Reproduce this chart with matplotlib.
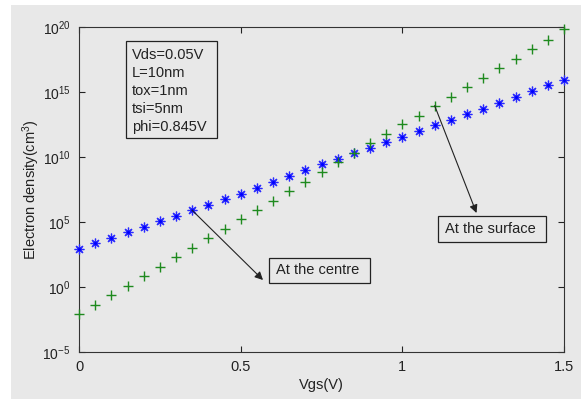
import numpy as np
import matplotlib
matplotlib.use("Agg")
import matplotlib.pyplot as plt
from matplotlib.patches import Rectangle

plt.rcParams['font.family'] = ['Liberation Sans', 'DejaVu Sans']
plt.rcParams['mathtext.default'] = 'regular'

vgs = [0.0, 0.05, 0.1, 0.15, 0.2, 0.25, 0.3, 0.35, 0.4, 0.45, 0.5, 0.55, 0.6,
       0.65, 0.7, 0.75, 0.8, 0.85, 0.9, 0.95, 1.0, 1.05, 1.1, 1.15, 1.2, 1.25,
       1.3, 1.35, 1.4, 1.45, 1.5]
log_centre = [2.92, 3.36, 3.77, 4.21, 4.64, 5.05, 5.48, 5.90, 6.33, 6.76, 7.19,
              7.62, 8.10, 8.56, 8.97, 9.44, 9.87, 10.28, 10.72, 11.13, 11.56,
              12.00, 12.44, 12.85, 13.28, 13.69, 14.13, 14.59, 15.08, 15.51, 15.92]
log_surface = [-2.08, -1.38, -0.64, 0.08, 0.82, 1.54, 2.28, 3.00, 3.74, 4.46, 5.23,
               5.92, 6.65, 7.41, 8.10, 8.82, 9.59, 10.28, 11.05, 11.74, 12.52,
               13.18, 13.95, 14.64, 15.38, 16.10, 16.85, 17.56, 18.31, 19.00, 19.82]
info_lines = ["Vds=0.05V", "L=10nm", "tox=1nm", "tsi=5nm", "phi=0.845V"]
x_ticks = [0, 0.5, 1, 1.5]
x_ticklabels = ['0', '0.5', '1', '1.5']
y_exps = [-5, 0, 5, 10, 15, 20]

centre = 10.0 ** np.array(log_centre)
surface = 10.0 ** np.array(log_surface)

W, H = 581, 399
AX_L, AX_R, AX_T, AX_B = 79, 564, 27, 352
FS = 10.5
fig = plt.figure(figsize=(W / 100, H / 100), dpi=100, facecolor='white')
bg = '#e8e8e8'
fig.patches.append(Rectangle((11 / W, 0), 1 - 11 / W, 1 - 5 / H,
                             transform=fig.transFigure, facecolor=bg,
                             edgecolor='none', zorder=-10))

ax = fig.add_axes([AX_L / W, 1 - AX_B / H, (AX_R - AX_L) / W, (AX_B - AX_T) / H])
ax.set_facecolor(bg)


def axc(px, py):
    return ((px - AX_L) / (AX_R - AX_L), (AX_B - py) / (AX_B - AX_T))


ax.plot(vgs, centre, linestyle='none', marker=(8, 2, 0), color='#2a2aff',
        markersize=7, markeredgewidth=0.9, clip_on=False, zorder=3)
ax.plot(vgs, centre, linestyle='none', marker='o', color='#0000ff',
        markersize=2.2, markeredgewidth=0, clip_on=False, zorder=3)
ax.plot(vgs, surface, linestyle='none', marker='+', color='#1e8a1e',
        markersize=7.5, markeredgewidth=1.0, clip_on=False, zorder=3)

ax.set_yscale('log')
ax.set_xlim(0, 1.5)
ax.set_ylim(1e-5, 1e20)
ax.set_xticks(x_ticks)
ax.set_xticklabels(x_ticklabels)
ax.set_yticks([10.0 ** e for e in y_exps])
ax.set_yticklabels([r'$10^{%d}$' % e for e in y_exps])
ax.minorticks_off()
ax.tick_params(direction='in', length=4, width=0.8, top=True, right=True,
               labelsize=FS, colors='#222222', pad=6)
ax.tick_params(axis='y', labelsize=10)
for s in ax.spines.values():
    s.set_color('#333333')
    s.set_linewidth(0.8)

ax.set_xlabel('Vgs(V)', fontsize=FS, labelpad=3, color='#222222')
ax.set_ylabel(r'Electron density(cm$^{3}$)', fontsize=FS, color='#222222')
ax.yaxis.set_label_coords(axc(42, 0)[0], 0.5)


def box(px0, py0, px1, py1):
    x0, y0 = axc(px0, py1)
    x1, y1 = axc(px1, py0)
    ax.add_patch(Rectangle((x0, y0), x1 - x0, y1 - y0, transform=ax.transAxes,
                           facecolor='none', edgecolor='#222222', linewidth=0.9,
                           zorder=4))


# info box
box(126, 41, 217, 138)
for i, line in enumerate(info_lines):
    x, y = axc(132, 55 + 18 * i)
    ax.text(x, y, line, transform=ax.transAxes, fontsize=FS, va='center',
            ha='left', color='#222222')

# centre annotation
box(269, 258, 370, 283)
x, y = axc(276, 270.5)
ax.text(x, y, 'At the centre', transform=ax.transAxes, fontsize=FS,
        va='center', ha='left', color='#222222')
ax.annotate('', xy=axc(263, 280), xycoords='axes fraction',
            xytext=(vgs[7], centre[7]), textcoords='data',
            arrowprops=dict(arrowstyle='-|>', color='#222222', lw=0.8,
                            shrinkA=0, shrinkB=0, mutation_scale=12))

# surface annotation
box(438, 216, 546, 242)
x, y = axc(445, 229)
ax.text(x, y, 'At the surface', transform=ax.transAxes, fontsize=FS,
        va='center', ha='left', color='#222222')
ax.annotate('', xy=axc(476.5, 213), xycoords='axes fraction',
            xytext=(vgs[22], surface[22]), textcoords='data',
            arrowprops=dict(arrowstyle='-|>', color='#222222', lw=0.8,
                            shrinkA=0, shrinkB=0, mutation_scale=12))

fig.savefig('out.png', dpi=100, facecolor='white')
